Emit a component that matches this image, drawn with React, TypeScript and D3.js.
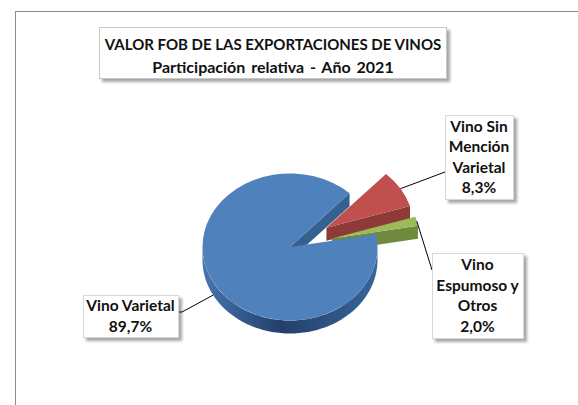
import { useRef, useEffect } from "react";
import * as d3 from "d3";

// data
const categories = ["Vino Varietal", "Vino Sin Mención Varietal", "Vino Espumoso y Otros"];
const shares = [89.7, 8.3, 2.0];
const shareLabels = ["89,7%", "8,3%", "2,0%"];
const labelLines = [["Vino Varietal"], ["Vino Sin", "Mención", "Varietal"], ["Vino", "Espumoso y", "Otros"]];
const exploded = [false, true, true];
const titleLines = ["VALOR FOB DE LAS EXPORTACIONES DE VINOS", "Participación relativa - Año 2021"];

const topColors = ["#4f81bd", "#c0504d", "#9bbb59"];
const wallColors = ["#36608f", "#8e3a38", "#6f8a3c"];

const App = () => {
  const svgRef = useRef<SVGSVGElement>(null);

  useEffect(() => {
    const w = 578;
    const h = 405;
    const svg = d3.select(svgRef.current).attr("width", w).attr("height", h);
    svg.selectAll("*").remove();

    const font = "Lato, 'Open Sans', sans-serif";
    //pie geometry
    const cx = 290;
    const cy = 247;
    const rx = 87.5;
    const k = 0.84; // tilt
    const depth = 13;
    const explode = 43;
    const start = (80 * Math.PI) / 180;

    const defs = svg.append("defs");
    const sh = defs.append("filter").attr("id", "shadow").attr("x", "-20%").attr("y", "-20%").attr("width", "140%").attr("height", "150%");
    sh.append("feDropShadow").attr("dx", 3).attr("dy", 3).attr("stdDeviation", 1.6)
      .attr("flood-color", "#000").attr("flood-opacity", 0.35);
    const g1 = defs.append("linearGradient").attr("id", "blueSide").attr("x1", 0).attr("x2", 1).attr("y1", 0).attr("y2", 0);
    g1.append("stop").attr("offset", "0%").attr("stop-color", "#4775ad");
    g1.append("stop").attr("offset", "45%").attr("stop-color", "#22406a");
    g1.append("stop").attr("offset", "100%").attr("stop-color", "#3a6598");

    // outer chart border
    svg.append("rect").attr("x", 15.5).attr("y", 11.5).attr("width", 620).attr("height", 420)
      .attr("fill", "white").attr("stroke", "#8c8c8c").attr("stroke-width", 1);

    // title box
    svg.append("rect").attr("x", 99.5).attr("y", 27.5).attr("width", 347).attr("height", 51)
      .attr("fill", "white").attr("stroke", "#c8c8c8").attr("filter", "url(#shadow)");
    titleLines.forEach((t, i) => {
      svg.append("text").attr("x", 273).attr("y", 50 + i * 23).attr("text-anchor", "middle")
        .attr("font-family", font).attr("font-weight", "bold").attr("font-size", i === 0 ? 15 : 16)
        .attr("word-spacing", i === 0 ? 0 : 2)
        .attr("fill", "#111").text(t);
    });

    const pie = d3.pie<number>().sort(null).startAngle(start).endAngle(start + 2 * Math.PI).value((d) => d);
    const arcs = pie(shares);
    const arcGen = d3.arc<d3.PieArcDatum<number>>().innerRadius(0).outerRadius(rx);

    const offsetOf = (a: d3.PieArcDatum<number>, i: number) => {
      if (!exploded[i]) return [0, 0];
      const m = (a.startAngle + a.endAngle) / 2;
      return [explode * Math.sin(m), -explode * Math.cos(m) * k];
    };
    const pt = (i: number, ang: number, r: number, dz: number) => {
      const [ox, oy] = offsetOf(arcs[i], i);
      return [cx + ox + r * Math.sin(ang), cy + oy - r * Math.cos(ang) * k + dz] as [number, number];
    };
    const line = d3.line();

    // back to front: red, green, blue
    [1, 2, 0].forEach((i) => {
      const a = arcs[i];
      const grp = svg.append("g");
      // end wall (faces viewer when sin > 0)
      if (Math.sin(a.endAngle) > 0) {
        const e = a.endAngle;
        grp.append("path")
          .attr("d", line([pt(i, e, 0, 0), pt(i, e, rx, 0), pt(i, e, rx, depth), pt(i, e, 0, depth)]) + "Z")
          .attr("fill", wallColors[i]);
      }
      if (Math.sin(a.startAngle) < 0) {
        const s = a.startAngle;
        grp.append("path")
          .attr("d", line([pt(i, s, 0, 0), pt(i, s, rx, 0), pt(i, s, rx, depth), pt(i, s, 0, depth)]) + "Z")
          .attr("fill", wallColors[i]);
      }
      // outer front wall
      [0, 2 * Math.PI].forEach((shift) => {
        const lo = Math.max(a.startAngle, Math.PI / 2 + shift);
        const hi = Math.min(a.endAngle, (3 * Math.PI) / 2 + shift);
        if (hi <= lo) return;
        const steps = d3.range(0, 61).map((j) => lo + ((hi - lo) * j) / 60);
        const pts = steps.map((ang) => pt(i, ang, rx, 0))
          .concat(steps.slice().reverse().map((ang) => pt(i, ang, rx, depth)));
        grp.append("path").attr("d", line(pts) + "Z")
          .attr("fill", i === 0 ? "url(#blueSide)" : wallColors[i]);
      });
      // top face
      const [ox, oy] = offsetOf(a, i);
      grp.append("path").attr("d", arcGen(a))
        .attr("transform", `translate(${cx + ox},${cy + oy}) scale(1,${k})`)
        .attr("fill", topColors[i]);
    });

    // label boxes (layout)
    const boxes = [
      { x: 83, y: 295, w: 95, h: 42, ly: 312, side: "right" },
      { x: 445, y: 115, w: 68, h: 84, ly: 172, side: "left" },
      { x: 432, y: 253, w: 91, h: 85, ly: 270, side: "left" },
    ];
    arcs.forEach((a, i) => {
      const b = boxes[i];
      const m = (a.startAngle + a.endAngle) / 2;
      const s = pt(i, m, rx, i === 0 ? depth : 0);
      const ex = b.side === "right" ? b.x + b.w - 2 : b.x + 6;
      const elbow = b.side === "right" ? ex + 6 : ex - 6;
      svg.append("path").attr("d", line([s, [elbow, b.ly], [ex, b.ly]]))
        .attr("fill", "none").attr("stroke", "#000").attr("stroke-width", 1);
    });
    arcs.forEach((a, i) => {
      const b = boxes[i];
      svg.append("rect").attr("x", b.x + 0.5).attr("y", b.y + 0.5).attr("width", b.w).attr("height", b.h)
        .attr("fill", "white").attr("stroke", "#d8d8d8").attr("filter", "url(#shadow)");
      const lines = labelLines[i].concat([shareLabels[i]]);
      const x0 = b.x + b.w / 2;
      const y0 = b.y + b.h / 2 - ((lines.length - 1) * 20.5) / 2 + 5.5;
      lines.forEach((t, j) => {
        svg.append("text").attr("x", x0).attr("y", y0 + j * 20.5).attr("text-anchor", "middle")
          .attr("font-family", font).attr("font-weight", "bold").attr("font-size", 15.5)
          .attr("fill", "#111").text(t);
      });
    });
    svg.append("title").text(categories.join(", "));
  }, []);

  return <svg ref={svgRef} style={{ position: "absolute", left: 0, top: 0 }}></svg>;
};

export default App;
